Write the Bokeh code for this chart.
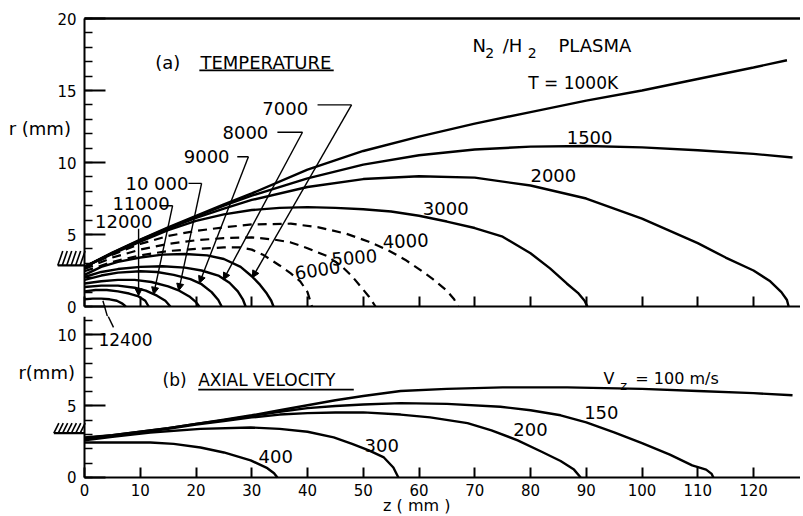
from bokeh.plotting import figure
from bokeh.layouts import column
from bokeh.models import (Range1d, SingleIntervalTicker, LinearAxis,
                          Arrow, NormalHead, ColumnDataSource)
from bokeh.core.properties import value
from bokeh.embed import file_html
from bokeh.resources import INLINE

FONT = "DejaVu Sans"

# ---------------- (a) temperature contours: z (mm), r (mm) ----------------
T1000_z = [0, 5, 10, 15, 20, 25, 30, 40, 50, 60, 70, 80, 90, 100, 110, 120, 126]
T1000_r = [2.75, 3.75, 4.65, 5.5, 6.3, 7.1, 7.85, 9.5, 10.8, 11.8, 12.7, 13.5, 14.3, 15.0, 15.8, 16.6, 17.1]
T1500_z = [0, 5, 10, 15, 20, 25, 30, 40, 50, 60, 70, 80, 90, 100, 110, 120, 127]
T1500_r = [2.75, 3.72, 4.62, 5.45, 6.25, 7.0, 7.7, 8.9, 9.85, 10.5, 10.9, 11.1, 11.15, 11.05, 10.85, 10.6, 10.35]
T2000_z = [0, 5, 10, 15, 20, 25, 30, 40, 50, 60, 70, 80, 90, 100, 105, 110, 115, 120, 123, 125, 126, 126.3]
T2000_r = [2.75, 3.7, 4.6, 5.4, 6.15, 6.8, 7.4, 8.3, 8.85, 9.05, 8.95, 8.4, 7.5, 6.1, 5.25, 4.4, 3.4, 2.5, 1.75, 1.0, 0.45, 0]
T3000_z = [0, 5, 10, 15, 20, 25, 30, 35, 40, 45, 50, 55, 60, 65, 70, 75, 80, 83.5, 86.5, 88.5, 89.7, 90.2]
T3000_r = [2.75, 3.65, 4.5, 5.3, 5.95, 6.4, 6.7, 6.85, 6.9, 6.85, 6.75, 6.6, 6.3, 5.9, 5.45, 4.85, 3.7, 2.65, 1.6, 0.95, 0.4, 0]
T4000_z = [0, 5, 10, 15, 20, 25, 30, 37, 42, 47, 51, 54.5, 57.5, 60, 62.5, 65, 66.3, 67]
T4000_r = [2.7, 3.6, 4.35, 4.9, 5.25, 5.5, 5.7, 5.75, 5.5, 5.05, 4.5, 3.9, 3.25, 2.6, 1.9, 1.1, 0.5, 0]
T5000_z = [0, 5, 10, 15, 20, 25, 30, 34, 37, 40, 43.5, 46, 48, 49.5, 51, 52.2]
T5000_r = [2.6, 3.4, 3.95, 4.35, 4.6, 4.75, 4.8, 4.65, 4.45, 4.05, 3.5, 2.85, 2.1, 1.4, 0.7, 0]
T6000_z = [0, 5, 10, 15, 20, 25, 28, 30, 32, 35, 37, 38.7, 40, 40.8]
T6000_r = [2.45, 3.1, 3.55, 3.85, 4.0, 4.1, 4.1, 3.95, 3.6, 2.85, 2.3, 1.75, 1.0, 0]
T7000_z = [0, 3, 6, 10, 14, 18, 22, 25, 28, 30, 31.5, 32.7, 33.5, 33.9]
T7000_r = [2.2, 2.75, 3.1, 3.4, 3.6, 3.65, 3.55, 3.3, 2.75, 2.1, 1.5, 0.9, 0.4, 0]
T8000_z = [0, 3, 6, 10, 14, 18, 21, 24, 26, 27.5, 28.4, 28.9]
T8000_r = [2.05, 2.4, 2.6, 2.75, 2.8, 2.7, 2.5, 2.15, 1.65, 1.05, 0.5, 0]
T9000_z = [0, 3, 6, 10, 13, 16, 19, 21, 22.8, 24, 24.6]
T9000_r = [1.85, 2.15, 2.35, 2.45, 2.4, 2.2, 1.9, 1.55, 1.0, 0.45, 0]
T10000_z = [0, 3, 6, 9, 12, 15, 17, 18.8, 20, 20.6]
T10000_r = [1.6, 1.75, 1.85, 1.85, 1.7, 1.4, 1.1, 0.7, 0.3, 0]
T11000_z = [0, 3, 6, 9, 11, 13, 14.5, 15.4]
T11000_r = [1.35, 1.45, 1.45, 1.3, 1.1, 0.75, 0.4, 0]
T12000_z = [0, 2, 4, 6, 8, 9.7, 10.9, 11.5]
T12000_r = [1.05, 1.15, 1.15, 1.05, 0.9, 0.7, 0.4, 0]
T12400_z = [0, 1.5, 3, 4.5, 5.8, 6.8, 7.4]
T12400_r = [0.5, 0.55, 0.55, 0.5, 0.4, 0.2, 0]

solid_T = [(T1000_z, T1000_r), (T1500_z, T1500_r), (T2000_z, T2000_r), (T3000_z, T3000_r),
           (T7000_z, T7000_r), (T8000_z, T8000_r), (T9000_z, T9000_r), (T10000_z, T10000_r),
           (T11000_z, T11000_r), (T12000_z, T12000_r), (T12400_z, T12400_r)]
dashed_T = [(T4000_z, T4000_r), (T5000_z, T5000_r), (T6000_z, T6000_r)]

# contour labels (centre positions)
a_lab_c_text = ["1500", "2000", "3000", "4000", "5000", "6000"]
a_lab_c_z = [90.6, 84.1, 64.8, 57.6, 48.4, 41.8]
a_lab_c_r = [11.75, 9.1, 6.8, 4.55, 3.4, 2.55]
a_lab_c_ang = [0, 0, 0, 0.05, 0.08, 0.15]
# left-aligned labels
a_lab_l_text = ["7000", "8000", "9000", "10 000", "11000", "12000", "(a)", "TEMPERATURE"]
a_lab_l_z = [31.9, 24.75, 17.8, 7.35, 5.0, 1.9, 12.7, 20.8]
a_lab_l_r = [13.75, 12.1, 10.4, 8.55, 7.15, 5.9, 16.95, 16.95]

# leader lines (label -> contour)
lead_h_z0 = [41.8, 34.6, 27.4, 18.65, 13.45, 9.7]
lead_h_z1 = [47.9, 39.1, 29.4, 21.0, 15.8, 9.7]
lead_h_r = [14.0, 12.1, 10.4, 8.55, 7.0, 5.4]
lead_tip_z = [30.1, 24.9, 20.6, 16.9, 12.4, 9.7]
lead_tip_r = [2.0, 1.85, 1.62, 1.1, 0.85, 0.75]

# ---------------- (b) axial velocity contours ----------------
V100_z = [0, 5, 10, 15, 20, 25, 30, 35, 40, 45, 50, 56.7, 65, 75, 86.6, 100, 110, 120, 127]
V100_r = [2.8, 2.95, 3.2, 3.45, 3.75, 4.05, 4.35, 4.7, 5.05, 5.4, 5.7, 6.05, 6.2, 6.3, 6.3, 6.2, 6.05, 5.9, 5.75]
V150_z = [0, 5, 10, 15, 20, 25, 30, 35, 40, 45, 50, 56.7, 65, 74.6, 80, 85.4, 90, 95, 100, 105, 109, 111.5, 112.5, 112.8]
V150_r = [2.75, 2.95, 3.2, 3.45, 3.75, 4.0, 4.3, 4.6, 4.85, 5.0, 5.1, 5.2, 5.15, 4.95, 4.7, 4.35, 3.85, 3.15, 2.4, 1.6, 0.85, 0.55, 0.25, 0]
V200_z = [0, 5, 10, 15, 20, 25, 30, 35, 40, 45, 50, 56.7, 62, 68.7, 73, 77.7, 82, 85.4, 87.8, 89]
V200_r = [2.7, 2.9, 3.15, 3.4, 3.7, 3.95, 4.2, 4.4, 4.5, 4.55, 4.55, 4.4, 4.2, 3.8, 3.3, 2.6, 1.8, 1.15, 0.55, 0]
V300_z = [0, 5, 11.8, 20.8, 29.8, 35, 40, 44.7, 48, 51, 53.7, 55.4, 56.3]
V300_r = [2.6, 2.85, 3.15, 3.4, 3.5, 3.4, 3.2, 2.8, 2.35, 1.9, 1.4, 0.7, 0]
V400_z = [0, 5, 11.8, 16, 20.8, 25, 29.8, 32.8, 34.0, 34.6]
V400_r = [2.45, 2.45, 2.45, 2.35, 2.1, 1.75, 1.2, 0.65, 0.3, 0]
vel_curves = [(V100_z, V100_r), (V150_z, V150_r), (V200_z, V200_r), (V300_z, V300_r), (V400_z, V400_r)]

b_lab_c_text = ["150", "200", "300", "400"]
b_lab_c_z = [92.7, 80.0, 53.3, 34.3]
b_lab_c_r = [4.55, 3.35, 2.24, 1.47]
b_lab_l_text = ["(b)", "AXIAL VELOCITY", "12400"]
b_lab_l_z = [14.0, 20.4, 2.5]
b_lab_l_r = [6.8, 6.8, 9.65]

Z_MIN, Z_MAX = -15.07, 128.43
W = 800


def base(height, y0, y1, y_top, xlabels):
    p = figure(width=W, height=height, output_backend="svg", toolbar_location=None,
               x_range=Range1d(Z_MIN, Z_MAX), y_range=Range1d(y0, y1),
               x_axis_location=None, y_axis_location=None,
               min_border_left=0, min_border_right=0, min_border_top=0,
               min_border_bottom=0)
    p.outline_line_color = None
    p.grid.visible = False
    p.background_fill_color = "white"
    p.border_fill_color = "white"
    xa = LinearAxis(fixed_location=0, bounds=(0, Z_MAX),
                    ticker=SingleIntervalTicker(interval=10, num_minor_ticks=0))
    ya = LinearAxis(fixed_location=0, bounds=(0, y_top),
                    ticker=SingleIntervalTicker(interval=5, num_minor_ticks=5))
    for ax in (xa, ya):
        ax.axis_line_width = 2
        ax.axis_line_color = "black"
        ax.major_tick_out = 0
        ax.minor_tick_out = 0
        ax.major_tick_line_width = 2
        ax.minor_tick_line_width = 1.5
        ax.major_tick_line_color = "black"
        ax.minor_tick_line_color = "black"
        ax.major_label_text_font = FONT
        ax.major_label_text_font_size = "15px"
        ax.major_label_text_color = "black"
    xa.major_tick_in = 10
    xa.minor_tick_in = 0
    xa.major_label_standoff = 7
    if not xlabels:
        xa.major_label_text_color = None
    ya.major_tick_in = 21
    ya.minor_tick_in = 8
    ya.major_label_standoff = 8
    p.add_layout(xa, "below")
    p.add_layout(ya, "left")
    return p


def txt(p, xs, ys, texts, size, align="left", angle=None):
    data = dict(x=xs, y=ys, t=texts)
    if angle is not None:
        data["a"] = angle
    src = ColumnDataSource(data)
    kw = dict(x="x", y="y", text="t", source=src, text_font=value(FONT),
              text_font_size=value(size), text_color="black",
              text_align=align, text_baseline="middle")
    if angle is not None:
        kw["angle"] = "a"
    p.text(**kw)


def wall(p, z0, r0, r1, n):
    # nozzle-wall symbol: base line with slanted hatch strokes
    step = (0 - z0) / n
    x0 = [z0 + i * step for i in range(n)]
    x1 = [x + 0.9 for x in x0]
    p.segment(x0=x0, y0=[r0] * n, x1=x1, y1=[r1] * n, line_color="black", line_width=1.6)
    p.segment(x0=[z0], y0=[r0], x1=[0], y1=[r0], line_color="black", line_width=2.2)


# ---------------- panel (a) ----------------
# frame: y 0..316 px ; r = (306 - y) / 14.4
pa = base(316, -0.694, 21.25, 20, False)
pa.segment(x0=[0], y0=[20], x1=[Z_MAX], y1=[20], line_color="black", line_width=2.5)

for zs, rs in solid_T:
    pa.line(zs, rs, line_color="black", line_width=2.4)
for zs, rs in dashed_T:
    pa.line(zs, rs, line_color="black", line_width=2.2, line_dash="9 6")

pa.segment(x0=lead_h_z0, y0=lead_h_r, x1=lead_h_z1, y1=lead_h_r, line_color="black", line_width=1.4)
for i in range(len(lead_tip_z)):
    pa.add_layout(Arrow(end=NormalHead(size=7, fill_color="black", line_color="black", line_width=1),
                        x_start=lead_h_z1[i], y_start=lead_h_r[i], x_end=lead_tip_z[i], y_end=lead_tip_r[i],
                        line_color="black", line_width=1.4))
pa.segment(x0=[4.15], y0=[-0.75], x1=[3.3], y1=[0.4], line_color="black", line_width=1.4)

txt(pa, a_lab_c_z, a_lab_c_r, a_lab_c_text, "18px", "center", a_lab_c_ang)
txt(pa, a_lab_l_z, a_lab_l_r, a_lab_l_text, "18px", "left")
pa.segment(x0=[20.6], y0=[16.4], x1=[44.7], y1=[16.4], line_color="black", line_width=1.8)
txt(pa, [69.6, 75.0, 85.0], [18.1, 18.1, 18.1], ["N", "/H", "PLASMA"], "18px", "left")
txt(pa, [71.9, 79.5], [17.6, 17.6], ["2", "2"], "14px", "left")
txt(pa, [79.6], [15.55], ["T = 1000K"], "17px", "left")
txt(pa, [-13.6], [12.35], ["r (mm)"], "18px", "left")
wall(pa, -4.8, 2.85, 3.85, 6)

# ---------------- panel (b) ----------------
# frame: y 316..514 px ; r = (477 - y) / 14.3
pb = base(198, -2.59, 11.26, 11.26, True)

for zs, rs in vel_curves:
    pb.line(zs, rs, line_color="black", line_width=2.4)

txt(pb, b_lab_c_z, b_lab_c_r, b_lab_c_text, "18px", "center")
txt(pb, b_lab_l_z, b_lab_l_r, b_lab_l_text, "17px", "left")
pb.segment(x0=[20.4], y0=[6.15], x1=[48.3], y1=[6.15], line_color="black", line_width=1.8)
txt(pb, [93.1], [6.9], ["V"], "16px", "left")
txt(pb, [96.1], [6.45], ["z"], "13px", "left")
txt(pb, [98.8], [6.9], ["= 100 m/s"], "16px", "left")
pb.segment(x0=[5.2], y0=[10.5], x1=[4.15], y1=[11.35], line_color="black", line_width=1.4)
txt(pb, [-11.85], [7.35], ["r(mm)"], "18px", "left")
txt(pb, [59.6], [-1.95], ["z ( mm )"], "16px", "center")
wall(pb, -5.5, 3.1, 3.8, 7)

layout = column(pa, pb)
open("out.html", "w").write(file_html(layout, INLINE))
